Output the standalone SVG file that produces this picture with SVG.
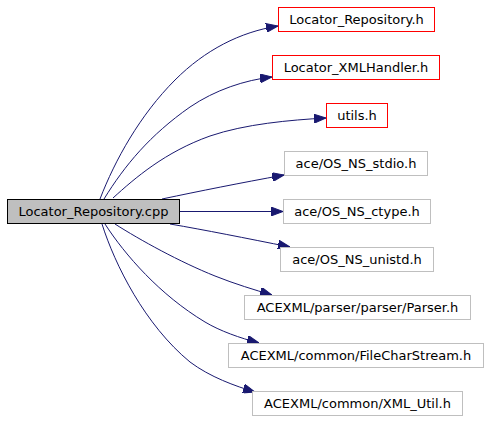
<svg xmlns="http://www.w3.org/2000/svg" width="491" height="421" viewBox="0 0 491 421">
<style>
.n rect{fill:#fff;stroke-width:1}
.red rect{stroke:#ff0000}
.gray rect{stroke:#bfbfbf}
.main rect{fill:#bfbfbf;stroke:#000}
text{font-family:"DejaVu Sans",sans-serif;font-size:13px;fill:#000;text-anchor:middle}
.e path{fill:none;stroke:#191970;stroke-width:1;marker-end:url(#ah)}
</style>
<defs>
<marker id="ah" markerUnits="userSpaceOnUse" markerWidth="12" markerHeight="9" refX="12" refY="4.5" orient="auto">
<path d="M0,0 L12,4.5 L0,9 z" fill="#191970" stroke="#191970"/>
</marker>
</defs>
<rect width="491" height="421" fill="#fff"/>
<g id="edges" class="e">
<path d="M100,199 C115,160 140,115 175,80 C205,50 240,32 278,26"/>
<path d="M104,199 C125,165 150,135 190,107 C215,90 245,80 272,77"/>
<path d="M113,198 C135,178 165,152 210,136 C245,124 290,120 326,118"/>
<path d="M162,199 C200,191 240,183 284,175"/>
<path d="M180,211.5 L283,211.5"/>
<path d="M170,224 C205,230 245,238 290,247"/>
<path d="M115,224 C140,240 180,262 215,276 C235,284 255,290 272,295"/>
<path d="M105,224 C125,255 160,295 205,322 C220,331 240,338 259,343"/>
<path d="M102,224 C115,265 145,325 190,362 C210,377 235,386 255,392"/>
</g>
<g id="node_main" class="n main"><rect x="7.5" y="199.5" width="172" height="24"/><text x="93.5" y="216">Locator_Repository.cpp</text></g>
<g id="node_locator_repository_h" class="n red"><rect x="278.5" y="7.5" width="156" height="24"/><text x="356.5" y="24">Locator_Repository.h</text></g>
<g id="node_locator_xmlhandler_h" class="n red"><rect x="272.5" y="55.5" width="167" height="24"/><text x="356" y="72">Locator_XMLHandler.h</text></g>
<g id="node_utils_h" class="n red"><rect x="326.5" y="103.5" width="61" height="24"/><text x="357" y="120">utils.h</text></g>
<g id="node_os_ns_stdio" class="n gray"><rect x="284.5" y="151.5" width="143" height="24"/><text x="356" y="168">ace/OS_NS_stdio.h</text></g>
<g id="node_os_ns_ctype" class="n gray"><rect x="283.5" y="199.5" width="147" height="24"/><text x="357" y="216">ace/OS_NS_ctype.h</text></g>
<g id="node_os_ns_unistd" class="n gray"><rect x="280.5" y="247.5" width="153" height="24"/><text x="357" y="264">ace/OS_NS_unistd.h</text></g>
<g id="node_parser_h" class="n gray"><rect x="244.5" y="295.5" width="226" height="24"/><text x="357.5" y="312">ACEXML/parser/parser/Parser.h</text></g>
<g id="node_filecharstream_h" class="n gray"><rect x="228.5" y="343.5" width="255" height="24"/><text x="356" y="360">ACEXML/common/FileCharStream.h</text></g>
<g id="node_xml_util_h" class="n gray"><rect x="252.5" y="391.5" width="210" height="24"/><text x="357.5" y="408">ACEXML/common/XML_Util.h</text></g>
</svg>
